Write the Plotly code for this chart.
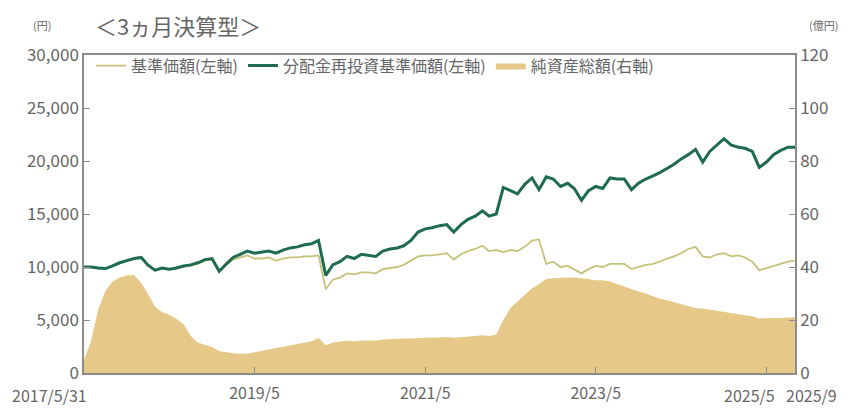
import pandas as pd
import plotly.graph_objects as go

# month-end dates 2017/5 .. 2025/9
dates = pd.date_range("2017-05-31", "2025-09-30", freq="ME").strftime("%Y-%m-%d").tolist()

# 分配金再投資基準価額 (円)
reinvested = [
    10000, 10000, 9900, 9850, 10100, 10400, 10600, 10800, 10900, 10200,
    9700, 9900, 9800, 9900, 10100, 10200, 10400, 10700, 10800, 9600,
    10300, 10900, 11200, 11500, 11300, 11400, 11500, 11300, 11600, 11800,
    11900, 12100, 12200, 12500, 9200, 10200, 10500, 11000, 10800, 11200,
    11100, 11000, 11500, 11700, 11800, 12000, 12500, 13300, 13600, 13700,
    13900, 14000, 13300, 14000, 14500, 14800, 15300, 14800, 15000, 17500,
    17200, 16900, 17800, 18400, 17300, 18500, 18300, 17600, 17900, 17400,
    16300, 17200, 17600, 17400, 18400, 18300, 18300, 17300, 17900, 18300,
    18600, 18900, 19300, 19700, 20200, 20600, 21100, 19900, 20900, 21500,
    22100, 21500, 21300, 21200, 20900, 19400, 19900, 20600, 21000, 21300,
    21300,
]

# 基準価額 (円)
nav = [
    10000, 9990, 9880, 9830, 10080, 10370, 10570, 10760, 10850, 10150,
    9650, 9850, 9750, 9850, 10040, 10130, 10320, 10600, 10680, 9550,
    10200, 10700, 10900, 11100, 10800, 10800, 10900, 10600, 10800, 10900,
    10900, 11000, 11000, 11100, 7900, 8800, 9000, 9400, 9300, 9500,
    9500, 9400, 9800, 9900, 10000, 10200, 10600, 11000, 11100, 11100,
    11200, 11300, 10700, 11200, 11500, 11700, 12000, 11500, 11600, 11400,
    11600, 11500, 11900, 12500, 12600, 10300, 10500, 10000, 10100, 9800,
    9400, 9800, 10100, 10000, 10300, 10300, 10300, 9800, 10000, 10200,
    10300, 10500, 10800, 11000, 11300, 11700, 11900, 11000, 10900, 11200,
    11300, 11000, 11100, 10900, 10500, 9700, 9900, 10100, 10300, 10500,
    10600,
]

# 純資産総額 (億円)
assets = [
    5, 12, 24, 31, 34.5, 36, 36.8, 37, 34, 30,
    25, 23, 22, 20.5, 18.5, 14, 11.5, 10.5, 9.8, 8.3,
    7.8, 7.5, 7.3, 7.3, 7.8, 8.3, 8.8, 9.2, 9.8, 10.3,
    10.8, 11.5, 12, 13.3, 10.5, 11.5, 11.8, 12.2, 12, 12.3,
    12.3, 12.2, 12.6, 12.8, 12.8, 13, 13, 13.2, 13.3, 13.3,
    13.5, 13.6, 13.3, 13.6, 13.8, 14, 14.2, 14, 14.5, 20,
    24.5, 27, 29.5, 32, 33.5, 35.5, 35.8, 36, 36, 36,
    35.8, 35.5, 35, 35, 34.5, 33.5, 32.5, 31.5, 30.8, 30,
    29, 28, 27.5, 26.8, 26, 25.5, 24.5, 24.2, 24, 23.5,
    23, 22.6, 22.2, 21.8, 21.4, 20.6, 20.8, 20.8, 20.8, 21,
    21,
]

left_ticks = [0, 5000, 10000, 15000, 20000, 25000, 30000]
right_ticks = [0, 20, 40, 60, 80, 100, 120]
x_tick_vals = ["2019-05-31", "2021-05-31", "2023-05-31", "2025-05-31"]
x_tick_text = ["2019/5", "2021/5", "2023/5", ""]

FONT = "Noto Sans CJK JP"
GRAY = "#666666"
AXIS = "#8c8c8c"
TICK_SIZE = 17
XLAB_SIZE = 16

fig = go.Figure()
fig.add_trace(go.Scatter(
    x=dates, y=assets, name="純資産総額(右軸)", mode="lines",
    line=dict(width=0, color="#e6c988"), fill="tozeroy", fillcolor="#e6c988",
    yaxis="y", legendrank=3,
))
fig.add_trace(go.Scatter(
    x=dates, y=nav, name="基準価額(左軸)", mode="lines",
    line=dict(width=1.8, color="#c5c27a"), yaxis="y2", legendrank=1,
))
fig.add_trace(go.Scatter(
    x=dates, y=reinvested, name="分配金再投資基準価額(左軸)", mode="lines",
    line=dict(width=3, color="#1e6b52"), yaxis="y2", legendrank=2,
))

fig.update_layout(
    width=848, height=408,
    margin=dict(l=76, r=61, t=47, b=33),
    paper_bgcolor="white", plot_bgcolor="white",
    font=dict(family=FONT, color=GRAY, size=15),
    showlegend=True,
    legend=dict(orientation="h", x=0.01, y=1.02, xanchor="left", yanchor="top",
                bgcolor="rgba(0,0,0,0)", font=dict(size=16, color=GRAY),
                itemwidth=30, tracegroupgap=0),
    xaxis=dict(
        type="date", range=["2017-05-31", "2025-09-30"],
        tickvals=x_tick_vals, ticktext=x_tick_text,
        ticks="inside", ticklen=6, tickcolor=AXIS, tickwidth=1,
        showline=True, linecolor=AXIS, linewidth=1.5, mirror=True,
        showgrid=False, zeroline=False, tickfont=dict(size=XLAB_SIZE, color=GRAY),
        ticklabelstandoff=5,
    ),
    yaxis=dict(
        side="right", range=[0, 120], tickvals=right_ticks,
        ticks="inside", ticklen=6, tickcolor=AXIS,
        showline=True, linecolor=AXIS, linewidth=1.5,
        showgrid=False, zeroline=False, tickfont=dict(size=TICK_SIZE, color=GRAY),
    ),
    yaxis2=dict(
        side="left", overlaying="y", range=[0, 30000], tickvals=left_ticks,
        tickformat=",d",
        ticks="inside", ticklen=6, tickcolor=AXIS,
        showline=True, linecolor=AXIS, linewidth=1.5,
        showgrid=False, zeroline=False, tickfont=dict(size=TICK_SIZE, color=GRAY),
    ),
    annotations=[
        dict(text="＜3ヵ月決算型＞", xref="paper", yref="paper", x=0.012, y=1.0,
             xanchor="left", yanchor="bottom", yshift=12, showarrow=False,
             font=dict(size=22, color=GRAY)),
        dict(text="(円)", xref="paper", yref="paper", x=0, y=1.0, xshift=-42,
             xanchor="center", yanchor="bottom", yshift=20, showarrow=False,
             font=dict(size=11, color=GRAY)),
        dict(text="(億円)", xref="paper", yref="paper", x=1, y=1.0, xshift=28,
             xanchor="center", yanchor="bottom", yshift=20, showarrow=False,
             font=dict(size=11, color=GRAY)),
        dict(text="2017/5/31", xref="paper", yref="paper", x=0, y=0,
             xshift=-74, yshift=-8, xanchor="left", yanchor="top", showarrow=False,
             font=dict(size=XLAB_SIZE, color=GRAY)),
        dict(text="2025/5", xref="paper", yref="paper", x=1, y=0,
             xshift=-18, yshift=-8, xanchor="right", yanchor="top", showarrow=False,
             font=dict(size=XLAB_SIZE, color=GRAY)),
        dict(text="2025/9", xref="paper", yref="paper", x=1, y=0,
             xshift=44, yshift=-8, xanchor="right", yanchor="top", showarrow=False,
             font=dict(size=XLAB_SIZE, color=GRAY)),
    ],
)

fig.write_html("out.html")
